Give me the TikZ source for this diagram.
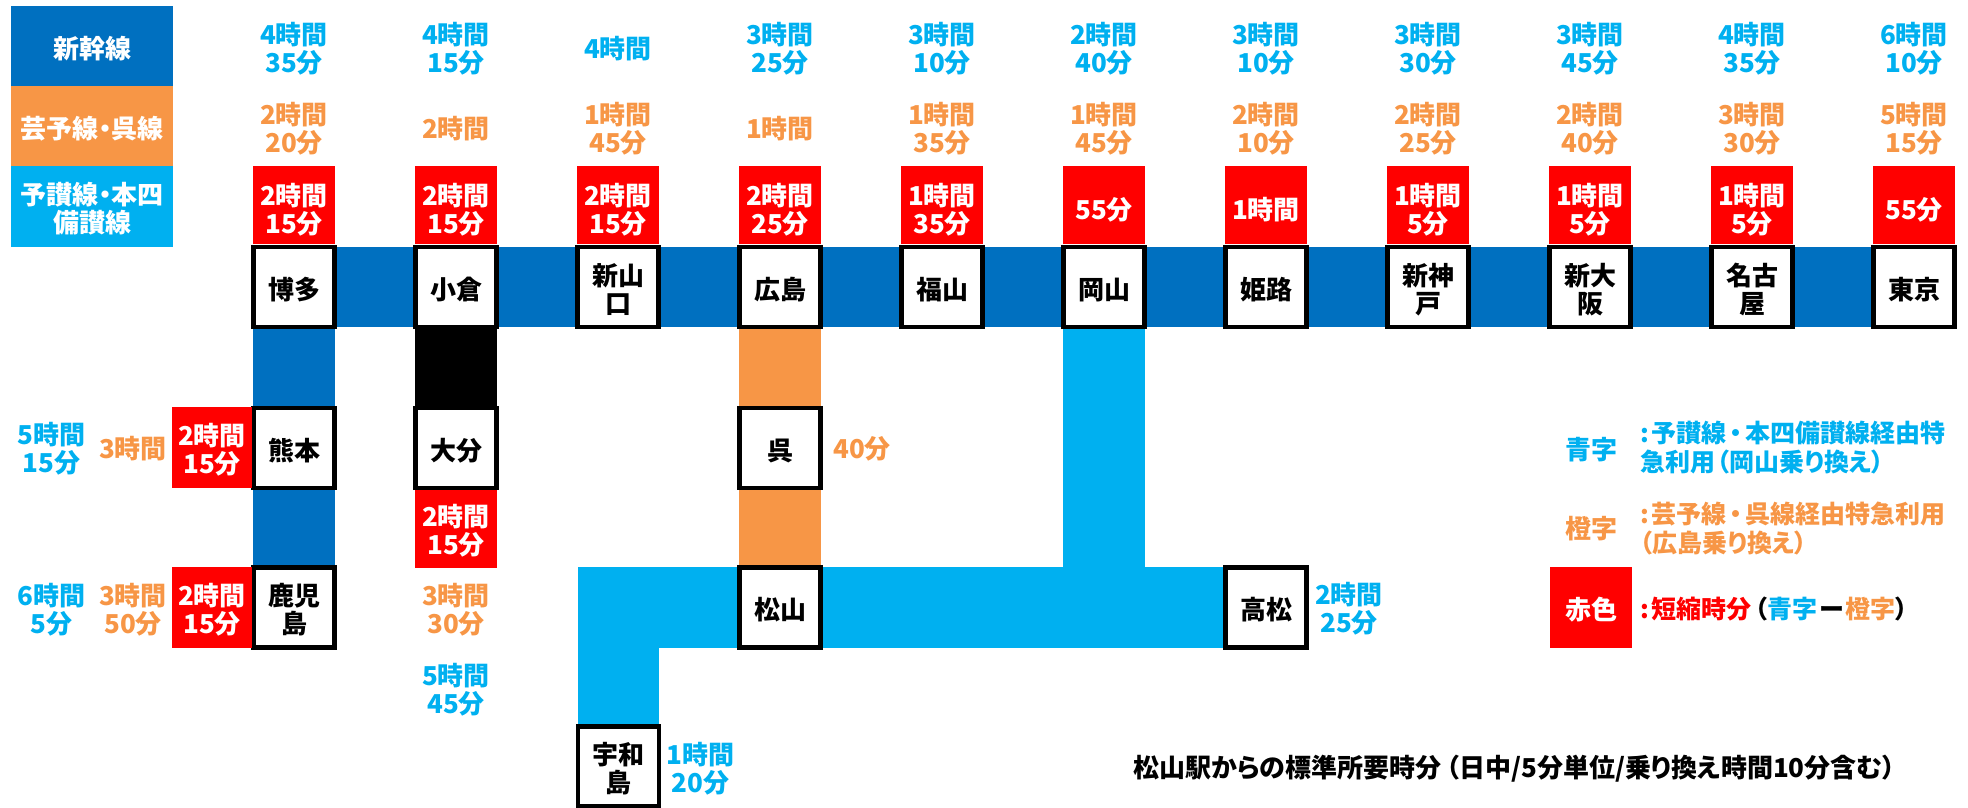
\documentclass[tikz,border=0pt]{standalone}
\usepackage{fontspec}
\usepackage{xcolor}
\setmainfont{Noto Sans CJK JP}[RawFeature=+palt]
\definecolor{shinblue}{HTML}{0070C0}
\definecolor{geiorange}{HTML}{F79646}
\definecolor{sancyan}{HTML}{00B0F0}
\definecolor{cutred}{HTML}{FF0000}
\newcommand{\jp}{\fontsize{26}{28}\selectfont\bfseries}
\newcommand{\jpnote}{\fontsize{25}{29}\selectfont\bfseries}
\usetikzlibrary{backgrounds}
\tikzset{
	jptext/.style={align=center,inner sep=0pt,font=\jp},
	oneline/.style={execute at begin node=\rule{0pt}{27pt}},
	twoline/.style={execute at begin node=\rule{0pt}{55pt}},
	twotop/.style={execute at begin node=\rule{0pt}{60pt}},
	station/.style={jptext,oneline,draw=black,line width=4.5pt,fill=white,minimum width=81pt,minimum height=80pt,text=black},
	cutbox/.style={jptext,oneline,fill=cutred,minimum width=81pt,minimum height=80.5pt,text=white},
	cuttop/.style={cutbox,minimum width=82pt,minimum height=78pt,execute at begin node=\rule{0pt}{32pt}},
	legendbox/.style={jptext,oneline,minimum width=162pt,minimum height=80pt,text=white},
	bluetime/.style={jptext,yshift=-1pt,text=sancyan},
	orangetime/.style={jptext,yshift=-1pt,text=geiorange},
	note/.style={jptext,yshift=-2pt,align=left,anchor=west,font=\jpnote},
	shinline/.style={line width=80.5pt,shinblue},
	geiline/.style={line width=82pt,geiorange},
	sanline/.style={line width=81.5pt,sancyan},
	blackline/.style={line width=82pt,black}
}
\begin{document}
\begin{tikzpicture}[x=1pt,y=-1pt]
		\useasboundingbox (0,0) rectangle (1968,808);
		% legend
		\node[legendbox,fill=shinblue] (legshin) at (92,46) {新幹線};
		\node[legendbox,fill=geiorange] (leggei) at (92,126) {芸予線・呉線};
		\node[legendbox,twoline,minimum height=81pt,fill=sancyan] (legsan) at (92,206.5) {予讃線・本四\\備讃線};
		% stations
		\node[station] (hakata) at (294,287) {博多};
		\node[station] (kokura) at (456,287) {小倉};
		\node[station,twoline] (shinyamaguchi) at (618,287) {新山\\口};
		\node[station] (hiroshima) at (780,287) {広島};
		\node[station] (fukuyama) at (942,287) {福山};
		\node[station] (okayama) at (1104,287) {岡山};
		\node[station] (himeji) at (1266,287) {姫路};
		\node[station,twoline] (shinkobe) at (1428,287) {新神\\戸};
		\node[station,twoline] (shinosaka) at (1590,287) {新大\\阪};
		\node[station,twoline] (nagoya) at (1752,287) {名古\\屋};
		\node[station] (tokyo) at (1914,287) {東京};
		\node[station] (kumamoto) at (294,448) {熊本};
		\node[station,twoline] (kagoshima) at (294,607.5) {鹿児\\島};
		\node[station] (oita) at (456,448) {大分};
		\node[station] (kure) at (780,448) {呉};
		\node[station] (matsuyama) at (780,607.5) {松山};
		\node[station] (takamatsu) at (1266,607.5) {高松};
		\node[station,twoline] (uwajima) at (618.5,766.5) {宇和\\島};
		\coordinate (uwacorner) at (uwajima |- matsuyama);
		\coordinate (okatee) at (okayama |- matsuyama);
		% lines
		\begin{scope}[on background layer]
			\draw[shinline] (hakata) -- (tokyo);
			\draw[shinline,line width=82pt] (hakata) -- (kagoshima);
			\draw[blackline] (kokura) -- (oita);
			\draw[geiline] (hiroshima) -- (matsuyama);
			\draw[sanline,line width=82pt] (okayama) -- (okatee);
			\draw[sanline] (takamatsu) -- (uwacorner) -- (uwajima);
		\end{scope}
		% times for the top row
		\node[bluetime] (t1a) at (294,47.5) {4時間\\35分};
		\node[orangetime] (t1b) at (294,127.5) {2時間\\20分};
		\node[cuttop,twotop] (t1c) at (294,205) {2時間\\15分};
		\node[bluetime] (t2a) at (456,47.5) {4時間\\15分};
		\node[orangetime] (t2b) at (456,127.5) {2時間};
		\node[cuttop,twotop] (t2c) at (456,205) {2時間\\15分};
		\node[bluetime] (t3a) at (618,47.5) {4時間};
		\node[orangetime] (t3b) at (618,127.5) {1時間\\45分};
		\node[cuttop,twotop] (t3c) at (618,205) {2時間\\15分};
		\node[bluetime] (t4a) at (780,47.5) {3時間\\25分};
		\node[orangetime] (t4b) at (780,127.5) {1時間};
		\node[cuttop,twotop] (t4c) at (780,205) {2時間\\25分};
		\node[bluetime] (t5a) at (942,47.5) {3時間\\10分};
		\node[orangetime] (t5b) at (942,127.5) {1時間\\35分};
		\node[cuttop,twotop] (t5c) at (942,205) {1時間\\35分};
		\node[bluetime] (t6a) at (1104,47.5) {2時間\\40分};
		\node[orangetime] (t6b) at (1104,127.5) {1時間\\45分};
		\node[cuttop] (t6c) at (1104,205) {55分};
		\node[bluetime] (t7a) at (1266,47.5) {3時間\\10分};
		\node[orangetime] (t7b) at (1266,127.5) {2時間\\10分};
		\node[cuttop] (t7c) at (1266,205) {1時間};
		\node[bluetime] (t8a) at (1428,47.5) {3時間\\30分};
		\node[orangetime] (t8b) at (1428,127.5) {2時間\\25分};
		\node[cuttop,twotop] (t8c) at (1428,205) {1時間\\5分};
		\node[bluetime] (t9a) at (1590,47.5) {3時間\\45分};
		\node[orangetime] (t9b) at (1590,127.5) {2時間\\40分};
		\node[cuttop,twotop] (t9c) at (1590,205) {1時間\\5分};
		\node[bluetime] (t10a) at (1752,47.5) {4時間\\35分};
		\node[orangetime] (t10b) at (1752,127.5) {3時間\\30分};
		\node[cuttop,twotop] (t10c) at (1752,205) {1時間\\5分};
		\node[bluetime] (t11a) at (1914,47.5) {6時間\\10分};
		\node[orangetime] (t11b) at (1914,127.5) {5時間\\15分};
		\node[cuttop] (t11c) at (1914,205) {55分};
		% times for the branches
		\node[bluetime] (kumaa) at (51.5,448) {5時間\\15分};
		\node[orangetime] (kumab) at (133,448) {3時間};
		\node[cutbox,twoline,minimum width=80pt] (kumac) at (212,447.3) {2時間\\15分};
		\node[bluetime] (kagoa) at (51.5,608.5) {6時間\\5分};
		\node[orangetime] (kagob) at (133,608.5) {3時間\\50分};
		\node[cutbox,twoline,minimum width=80pt] (kagoc) at (212,607.5) {2時間\\15分};
		\node[cutbox,twoline,minimum width=82pt,minimum height=78pt] (oitac) at (456,528.7) {2時間\\15分};
		\node[orangetime] (oitab) at (456,608.5) {3時間\\30分};
		\node[bluetime] (oitaa) at (456,688.3) {5時間\\45分};
		\node[orangetime] (kureb) at (862,448) {40分};
		\node[bluetime] (takaa) at (1349,608) {2時間\\25分};
		\node[bluetime] (uwaa) at (700.5,768) {1時間\\20分};
		% key on the right
		\node[bluetime] (aoji) at (1591,448.5) {青字};
		\node[note,text=sancyan] (aonote) at (1640,446) {:\kern3pt予讃線\kern3pt・\kern3pt本四備讃線経由特\\急利用\kern2pt（岡山乗り換え）};
		\node[orangetime] (daidaiji) at (1591,528) {橙字};
		\node[note,text=geiorange] (daidainote) at (1640,527) {:\kern3pt芸予線\kern3pt・\kern3pt呉線経由特急利用\\（広島乗り換え）};
		\node[cutbox,minimum width=82pt] (akairo) at (1591,607.5) {赤色};
		\node[note] (akanote) at (1640,607) {\textcolor{cutred}{:\kern3pt短縮時分}\kern3pt（\textcolor{sancyan}{青字}\kern2ptー\kern2pt\textcolor{geiorange}{橙字}）};
		\node[note,font=\jp] (title) at (1133,767) {松山駅からの標準所要時分\kern5pt（日中/5分単位/乗り換え時間10分含む）};
	\end{tikzpicture}
\end{document}
